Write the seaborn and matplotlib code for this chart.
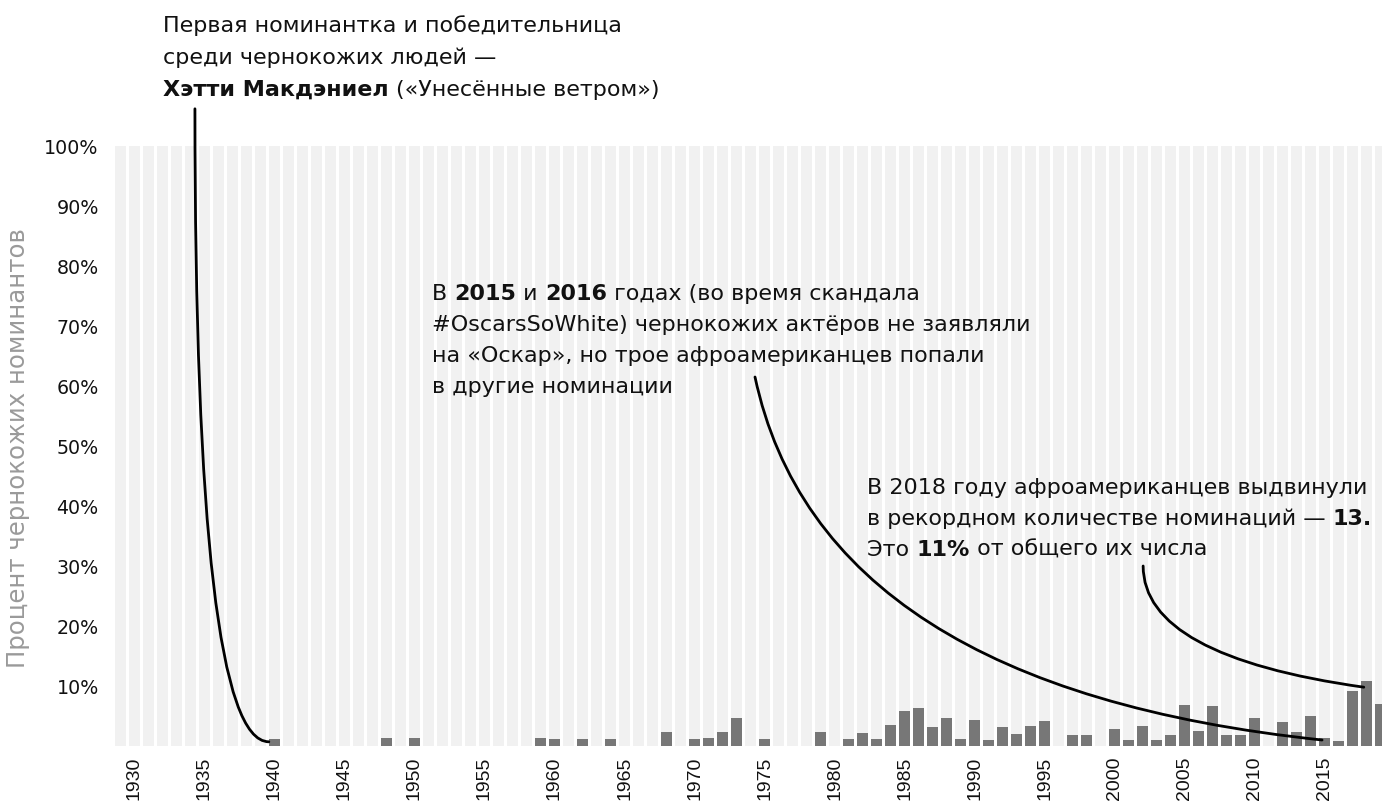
import matplotlib
matplotlib.use("Agg")
import matplotlib.pyplot as plt
import seaborn as sns
import pandas as pd
from matplotlib.transforms import IdentityTransform

# ---------------- data ----------------
YEARS = list(range(1929, 2020))
PCT = [
    0, 0, 0, 0, 0, 0, 0, 0, 0, 0, 0,          # 1929-1939
    1.2,                                      # 1940
    0, 0, 0, 0, 0, 0, 0,                      # 1941-1947
    1.4, 0, 1.4,                              # 1948-1950
    0, 0, 0, 0, 0, 0, 0, 0,                   # 1951-1958
    1.4, 1.2, 0, 1.2, 0, 1.2,                 # 1959-1964
    0, 0, 0, 2.4, 0,                          # 1965-1969
    1.2, 1.4, 2.4, 4.7, 0,                    # 1970-1974
    1.2, 0, 0, 0, 2.4,                        # 1975-1979
    0, 1.2, 2.1, 1.2, 3.5,                    # 1980-1984
    5.9, 6.4, 3.1, 4.7, 1.2,                  # 1985-1989
    4.3, 1.0, 3.1, 2.0, 3.3,                  # 1990-1994
    4.1, 0, 1.8, 1.8, 0,                      # 1995-1999
    2.8, 1.0, 3.4, 1.0, 1.8,                  # 2000-2004
    6.8, 2.5, 6.6, 1.8, 1.9,                  # 2005-2009
    4.6, 0, 4.0, 2.3, 5.0,                    # 2010-2014
    1.4, 0.8, 9.1, 10.9, 7.0,                 # 2015-2019
]
FULL = [100] * len(YEARS)
XTICKS = list(range(1930, 2016, 5))
YTICKS = [10, 20, 30, 40, 50, 60, 70, 80, 90, 100]
YTICK_LABELS = [f"{v}%" for v in YTICKS]
YLABEL = "Процент чернокожих номинантов"

NOTE1 = [
    [("Первая номинантка и победительница", False)],
    [("среди чернокожих людей —", False)],
    [("Хэтти Макдэниел ", True), ("(«Унесённые ветром»)", False)],
]
NOTE2 = [
    [("В ", False), ("2015", True), (" и ", False), ("2016", True),
     (" годах (во время скандала", False)],
    [("#OscarsSoWhite) чернокожих актёров не заявляли", False)],
    [("на «Оскар», но трое афроамериканцев попали", False)],
    [("в другие номинации", False)],
]
NOTE3 = [
    [("В 2018 году афроамериканцев выдвинули", False)],
    [("в рекордном количестве номинаций — ", False), ("13.", True)],
    [("Это ", False), ("11%", True), (" от общего их числа", False)],
]

# ---------------- style ----------------
W, H = 1382, 803
sns.set_theme(style="white")
plt.rcParams["font.family"] = ["Liberation Sans", "DejaVu Sans"]
WIDE = ["DejaVu Sans"]
TXT = "#111111"

fig = plt.figure(figsize=(W / 100, H / 100), dpi=100)
fig.patch.set_facecolor("white")
ax = fig.add_axes([114 / W, (H - 747) / H, (W - 114) / W, 600 / H])
ax.set_facecolor("white")
renderer = fig.canvas.get_renderer()


def text_width(s, bold, size, family):
    kw = dict(transform=IdentityTransform(), fontsize=size, family=family,
              fontweight="bold" if bold else "normal")
    t = fig.text(0, 0, s + "|", **kw)
    t2 = fig.text(0, 0, "|", **kw)
    w = t.get_window_extent(renderer).width - t2.get_window_extent(renderer).width
    t.remove()
    t2.remove()
    return w


def fit_size(s, target_px, family, bold=False):
    return 10.0 * target_px / text_width(s, bold, 10.0, family)


df = pd.DataFrame({"year": YEARS, "pct": PCT, "full": FULL})
sns.barplot(data=df, x="year", y="full", native_scale=True, color="#f1f1f1",
            saturation=1, width=0.8, errorbar=None, linewidth=0,
            edgecolor="none", ax=ax, zorder=1)
sns.barplot(data=df, x="year", y="pct", native_scale=True, color="#777777",
            saturation=1, width=0.8, errorbar=None, linewidth=0,
            edgecolor="none", ax=ax, zorder=2)

ax.set_xlim(1928.54, 2019.1)
ax.set_ylim(0, 100)
ax.set_xticks(XTICKS)
ax.set_xticklabels([str(y) for y in XTICKS], rotation=90, fontsize=14,
                   color=TXT)
ytick_size = fit_size("100%", 54, WIDE)
ax.set_yticks(YTICKS)
ax.set_yticklabels(YTICK_LABELS, fontsize=ytick_size, color=TXT, family=WIDE)
ax.tick_params(axis="both", length=0)
ax.tick_params(axis="x", pad=7)
ax.tick_params(axis="y", pad=11)
ax.set_xlabel("")
ax.set_ylabel("")
for s in ax.spines.values():
    s.set_visible(False)
ax.grid(False)

ylabel_size = fit_size(YLABEL, 440, WIDE)
fig.text(18, H - 448, YLABEL, transform=IdentityTransform(), rotation=90,
         ha="center", va="center", fontsize=ylabel_size, color="#9a9a9a",
         family=WIDE)

# ---------------- connectors ----------------
def connector(start, end, style):
    ax.annotate("", xy=end, xytext=start, xycoords="data", textcoords="data",
                annotation_clip=False,
                arrowprops=dict(arrowstyle="-", color="black", lw=2,
                                shrinkA=0, shrinkB=0, connectionstyle=style))

connector((1934.32, 106.2), (1939.6, 0.7), "angle3,angleA=90,angleB=0")
connector((1974.32, 61.5), (2014.82, 1.0), "angle3,angleA=-78,angleB=-6")
connector((2002.04, 30.0), (2017.8, 9.8), "angle3,angleA=90,angleB=-8")

# ---------------- rich text notes ----------------
def note(x0, baselines, lines, size):
    for yb, runs in zip(baselines, lines):
        x = x0
        for s, bold in runs:
            fig.text(x, H - yb, s, transform=IdentityTransform(), fontsize=size,
                     fontweight="bold" if bold else "normal", color=TXT,
                     family=WIDE, ha="left", va="baseline")
            x += text_width(s, bold, size, WIDE)

note_size = fit_size(NOTE1[0][0][0], 461, WIDE)
note(163, [32, 64, 96], NOTE1, note_size)
note(432, [300, 331, 362, 393], NOTE2, note_size)
note(867, [494, 525, 556], NOTE3, note_size)

fig.savefig("out.png", dpi=100)
